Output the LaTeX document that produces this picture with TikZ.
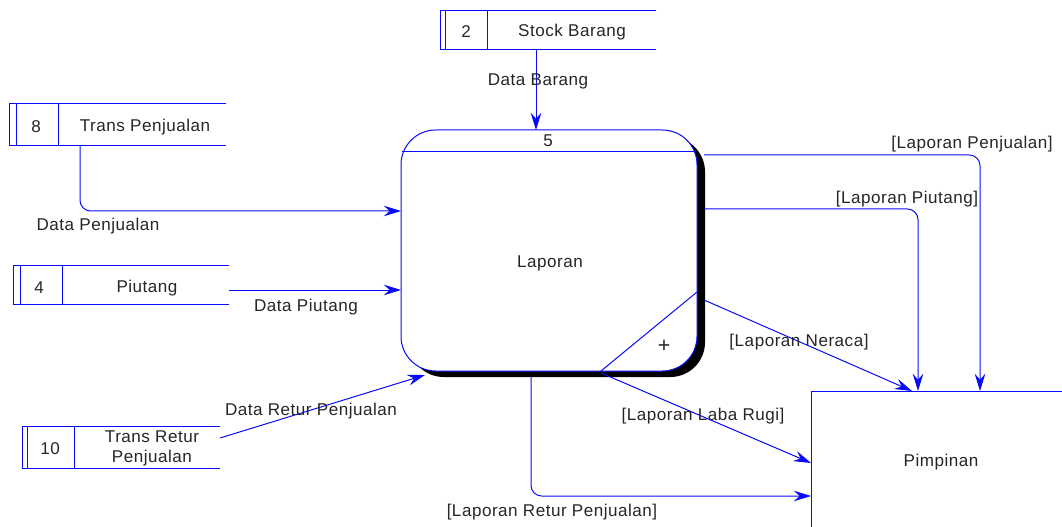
\documentclass[tikz,border=0pt]{standalone}
\usepackage{fontspec}
\setmainfont{Liberation Sans}[LetterSpace=3]
\usetikzlibrary{arrows.meta}
\definecolor{dfd}{RGB}{10,10,250}
\begin{document}
\begin{tikzpicture}[x=0.75pt,y=-0.75pt,
  every node/.style={font=\fontsize{12.8}{15}\selectfont, text=black!85, inner sep=0pt},
  ln/.style={draw=dfd, line width=0.75pt},
  flow/.style={ln, -{Stealth[length=13pt,width=8pt,inset=4.5pt]}},
  rflow/.style={flow, rounded corners=8pt},
  proc/.style={draw=dfd, fill=white, line width=0.75pt, rounded corners=26pt, minimum width=222pt, minimum height=180.75pt}]
\useasboundingbox (0,0) rectangle (1062,527);

% ---- process 5 ----
\fill[black, rounded corners=26pt] (409,137) rectangle (705,377);
\node[proc] (p) at (549,250.5) {};
\draw[ln] (402,152) -- (696,152);
\node (pid) at (548,141) {5};
\node (pname) at (550,263) {Laporan};
\draw[ln] (697,292) -- (601,371);
\node (plus) at (664,346) {\fontsize{16}{16}\selectfont +};

% ---- data stores ----
% 2 Stock Barang
\draw[ln] (656,11) -- (440,11) -- (440,50) -- (656,50);
\draw[ln] (445,11) -- (445,50);
\draw[ln] (487,11) -- (487,50);
\node (s2id) at (466,32) {2};
\node (s2) at (572,32) {Stock Barang};
\coordinate (s2b) at (536,50);

% 8 Trans Penjualan
\draw[ln] (226,104) -- (9,104) -- (9,146) -- (226,146);
\draw[ln] (16,104) -- (16,146);
\draw[ln] (58,104) -- (58,146);
\node (s8id) at (36,127) {8};
\node (s8) at (145,127) {Trans Penjualan};
\coordinate (s8b) at (80,146);

% 4 Piutang
\draw[ln] (229,265) -- (13,265) -- (13,304) -- (229,304);
\draw[ln] (20,265) -- (20,304);
\draw[ln] (62,265) -- (62,304);
\node (s4id) at (39,288) {4};
\node (s4) at (147,288) {Piutang};
\coordinate (s4r) at (229,290);

% 10 Trans Retur Penjualan
\draw[ln] (220,426) -- (22,426) -- (22,468) -- (220,468);
\draw[ln] (27,426) -- (27,468);
\draw[ln] (74,426) -- (74,468);
\node (s10id) at (50,449) {10};
\node[align=center] (s10) at (152,448) {Trans Retur\\Penjualan};
\coordinate (s10r) at (220,438);

% ---- external entity ----
\draw[ln] (1062,391) -- (811,391) -- (811,527);
\node (pim) at (941,462) {Pimpinan};

% ---- points on process ----
\coordinate (pTop) at (536,130);
\coordinate (pL1) at (401,211);
\coordinate (pL2) at (401,290);
\coordinate (pBL) at (425,375);
\coordinate (pR1) at (704,155);
\coordinate (pR2) at (704,209);
\coordinate (pR3) at (704,300);
\coordinate (pB1) at (601,373);
\coordinate (pB2) at (531,377);
% ---- points on Pimpinan ----
\coordinate (e1) at (980,391);
\coordinate (e2) at (918,391);
\coordinate (e3) at (912,391);
\coordinate (e4) at (811,463);
\coordinate (e5) at (811,496);

% ---- flows in ----
\draw[flow] (s2b) -- (pTop);
\node (l1) at (538,81) {Data Barang};
\draw[rflow] (s8b) |- (pL1);
\node (l2) at (98,226) {Data Penjualan};
\draw[flow] (s4r) -- (pL2);
\node (l3) at (306,307) {Data Piutang};
\draw[flow] (s10r) -- (pBL);
\node (l4) at (311,411) {Data Retur Penjualan};

% ---- flows out ----
\draw[rflow] (pR1) -| (e1);
\node (l5) at (972,144) {[Laporan Penjualan]};
\draw[rflow] (pR2) -| (e2);
\node (l6) at (907,199) {[Laporan Piutang]};
\draw[flow] (pR3) -- (e3);
\node (l7) at (799,342) {[Laporan Neraca]};
\draw[flow] (pB1) -- (e4);
\node (l8) at (703,416) {[Laporan Laba Rugi]};
\draw[rflow] (pB2) |- (e5);
\node (l9) at (552,512) {[Laporan Retur Penjualan]};
\end{tikzpicture}
\end{document}
